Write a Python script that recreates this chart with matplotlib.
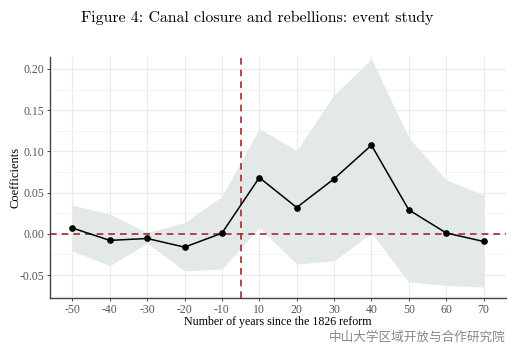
import matplotlib
matplotlib.use("Agg")
import matplotlib.pyplot as plt
import numpy as np

years = ["-50", "-40", "-30", "-20", "-10", "10", "20", "30", "40", "50", "60", "70"]
coef = [0.007, -0.008, -0.0057, -0.0162, 0.0008, 0.0682, 0.0319, 0.0667, 0.1075, 0.029, 0.001, -0.0093]
ci_upper = [0.0345, 0.0239, 0.0016, 0.0137, 0.0452, 0.1276, 0.101, 0.1685, 0.212, 0.1168, 0.0655, 0.0473]
ci_lower = [-0.0206, -0.0388, -0.0113, -0.0449, -0.0428, 0.0076, -0.0368, -0.0327, 0.0008, -0.0586, -0.0626, -0.0646]
yticks = [-0.05, 0.00, 0.05, 0.10, 0.15, 0.20]
ytick_labels = ["-0.05", "0.00", "0.05", "0.10", "0.15", "0.20"]

fig = plt.figure(figsize=(5.28, 3.59), dpi=100)
ax = fig.add_axes([50/528, 1-298/359, (506-50)/528, (298-57)/359])

x = np.arange(len(years))
red = "#a8282a"
ax.fill_between(x, ci_lower, ci_upper, color="#e3e8e8", lw=0, zorder=1)
ax.axhline(0, color=red, ls=(0, (4, 3)), lw=1.2, zorder=2)
ax.axvline(4.5, color=red, ls=(0, (4, 3)), lw=1.2, zorder=2)
ax.plot(x, coef, color="black", lw=1.1, marker="o", ms=3.8, zorder=3)

ax.set_xlim(-0.6, 11.6)
ax.set_ylim(-0.0779, 0.2145)
ax.set_xticks(x)
ax.set_xticklabels(years)
ax.set_yticks(yticks)
ax.set_yticklabels(ytick_labels)
ax.set_yticks(np.arange(-0.075, 0.215, 0.025), minor=True)
ax.set_xticks(np.arange(-0.5, 11.6, 1.0), minor=True)

ax.grid(True, which="major", color="#ebebeb", lw=0.9, zorder=0)
ax.grid(True, which="minor", axis="y", color="#f2f2f2", lw=0.6, zorder=0)
ax.set_axisbelow(True)

for s in ["top", "right"]:
    ax.spines[s].set_visible(False)
for s in ["left", "bottom"]:
    ax.spines[s].set_color("#444444")
    ax.spines[s].set_linewidth(1.0)

for lab in ax.get_xticklabels() + ax.get_yticklabels():
    lab.set_fontfamily("Liberation Serif")
    lab.set_fontsize(8.5)
    lab.set_color("#555555")
ax.tick_params(which="major", length=2.5, width=0.7, color="#444444", pad=1.5)
ax.tick_params(which="minor", length=0)

ax.set_xlabel("Number of years since the 1826 reform", family="Liberation Serif", fontsize=8.6, labelpad=0)
ax.set_ylabel("Coefficients", family="Liberation Serif", fontsize=9, labelpad=-1.5)

fig.text(257/528, 1-18/359, "Figure 4: Canal closure and rebellions: event study",
         family="cmr10", fontsize=11.4, ha="center", va="center")

fig.text(506/528, 1-337/359, "中山大学区域开放与合作研究院", family=["Noto Sans CJK SC", "DejaVu Sans"],
         fontsize=9.1, color="#888888", ha="right", va="center")

fig.savefig("out.png", dpi=100)
